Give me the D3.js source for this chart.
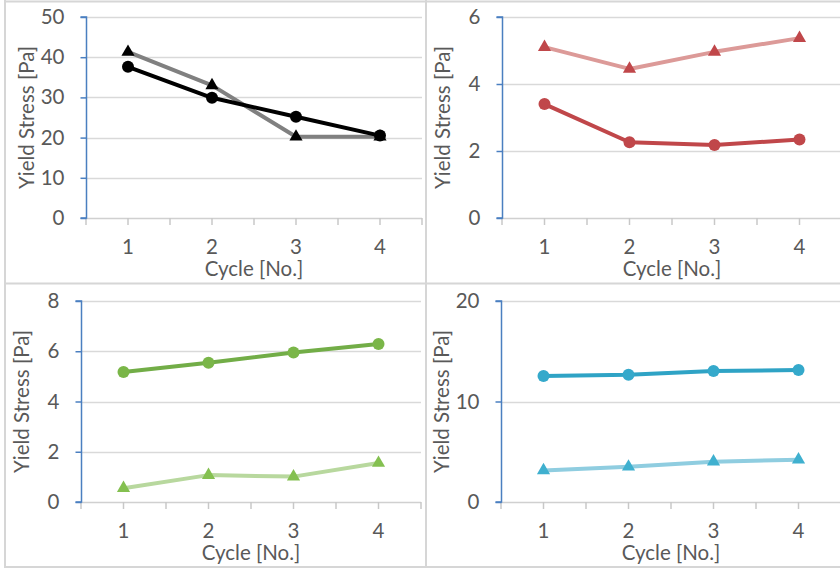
<!DOCTYPE html>
<html><head><meta charset="utf-8">
<script src="https://cdn.jsdelivr.net/npm/d3@7"></script>
<style>html,body{margin:0;padding:0;background:#fff;}svg{display:block;}</style>
</head><body>
<svg id="c" width="840" height="568"></svg>
<script>
// ---- data ----
const cycles = [1, 2, 3, 4];
const p1Circle   = [37.6, 29.9, 25.2, 20.5];
const p1Triangle = [41.3, 33.0, 20.2, 20.2];
const p2Circle   = [3.40, 2.26, 2.18, 2.34];
const p2Triangle = [5.10, 4.45, 4.96, 5.37];
const p3Circle   = [5.17, 5.54, 5.95, 6.29];
const p3Triangle = [0.55, 1.07, 1.01, 1.55];
const p4Circle   = [12.54, 12.67, 13.03, 13.13];
const p4Triangle = [3.14, 3.51, 4.01, 4.21];
const yTicks1 = [0, 10, 20, 30, 40, 50];
const yTicks2 = [0, 2, 4, 6];
const yTicks3 = [0, 2, 4, 6, 8];
const yTicks4 = [0, 10, 20];
const xTitle = "Cycle [No.]";
const yTitle = "Yield Stress [Pa]";

// ---- layout / style ----
const panels = [
  {x0: 86,  x1: 422, y0: 17,  y1: 218, ticks: yTicks1, circ: p1Circle, tri: p1Triangle,
   cLine: "#000000", cMark: "#000000", tLine: "#808080", tMark: "#000000"},
  {x0: 502, x1: 842, y0: 17,  y1: 218, ticks: yTicks2, circ: p2Circle, tri: p2Triangle,
   cLine: "#c0474a", cMark: "#c0474a", tLine: "#dc9a98", tMark: "#c0474a"},
  {x0: 81,  x1: 421, y0: 301, y1: 502, ticks: yTicks3, circ: p3Circle, tri: p3Triangle,
   cLine: "#72ad47", cMark: "#7ab648", tLine: "#b8d89e", tMark: "#84c050"},
  {x0: 501, x1: 841, y0: 301, y1: 502, ticks: yTicks4, circ: p4Circle, tri: p4Triangle,
   cLine: "#2fa3c5", cMark: "#35a9cb", tLine: "#8fcde0", tMark: "#3fb0cf"}
];
const FONT = "Lato, 'Open Sans', sans-serif";
const FS = 20.5;
const svg = d3.select("#c");

// panel frames
const frame = svg.append("g").attr("stroke", "#d6d6d6").attr("stroke-width", 2);
frame.append("line").attr("x1", 5).attr("x2", 5).attr("y1", 0).attr("y2", 568);
frame.append("line").attr("x1", 426).attr("x2", 426).attr("y1", 0).attr("y2", 568);
frame.append("line").attr("x1", 5).attr("x2", 840).attr("y1", 1.5).attr("y2", 1.5);
frame.append("line").attr("x1", 5).attr("x2", 840).attr("y1", 283.5).attr("y2", 283.5);
frame.append("line").attr("x1", 5).attr("x2", 840).attr("y1", 567).attr("y2", 567);

panels.forEach(p => {
  const g = svg.append("g");
  const x = d3.scaleBand().domain(cycles).range([p.x0, p.x1]);
  const y = d3.scaleLinear().domain([0, d3.max(p.ticks)]).range([p.y1, p.y0]);
  const clipRight = p.x1 > 426 ? 840 : 422;

  // gridlines
  g.append("g").selectAll("line").data(p.ticks.filter(t => t > 0)).join("line")
    .attr("x1", p.x0).attr("x2", Math.min(p.x1, clipRight))
    .attr("y1", d => Math.round(y(d)) + 0.5).attr("y2", d => Math.round(y(d)) + 0.5)
    .attr("stroke", "#d9d9d9").attr("stroke-width", 1.5);

  // x axis: ticks at every half band
  const halfTicks = d3.range(0, cycles.length * 2 + 1).map(i => p.x0 + i * x.bandwidth() / 2)
    .filter(v => v <= 840);
  const xa = g.append("g");
  xa.append("line").attr("x1", p.x0).attr("x2", Math.min(p.x1, 840))
    .attr("y1", p.y1 + 0.5).attr("y2", p.y1 + 0.5).attr("stroke", "#d0d0d0").attr("stroke-width", 1.5);
  xa.selectAll("line.t").data(halfTicks).join("line").attr("class", "t")
    .attr("x1", d => d).attr("x2", d => d).attr("y1", p.y1).attr("y2", p.y1 + 7)
    .attr("stroke", "#c8c8c8").attr("stroke-width", 1.5);
  xa.selectAll("text").data(cycles).join("text")
    .attr("x", d => x(d) + x.bandwidth() / 2).attr("y", p.y1 + 36)
    .attr("text-anchor", "middle").attr("font-family", FONT).attr("font-size", FS)
    .attr("fill", "#595959").text(d => d);
  g.append("text")
    .attr("x", p.x0 + 2 * x.bandwidth()).attr("y", p.y1 + 58)
    .attr("text-anchor", "middle").attr("font-family", FONT).attr("font-size", FS)
    .attr("fill", "#595959").text(xTitle);

  // y axis (blue)
  const ya = g.append("g").attr("transform", `translate(${p.x0 + 0.5},0)`)
    .call(d3.axisLeft(y).tickValues(p.ticks).tickSize(6).tickPadding(16).tickFormat(d3.format("d")));
  ya.select(".domain").attr("stroke", "#4a7fc0").attr("stroke-width", 1.5)
    .attr("d", `M-6,${y(d3.max(p.ticks))}H0V${p.y1}H-6`);
  ya.selectAll(".tick line").attr("stroke", "#4a7fc0").attr("stroke-width", 1.5);
  ya.selectAll(".tick text").attr("font-family", FONT).attr("font-size", FS).attr("fill", "#595959");
  g.append("text").attr("transform", `translate(${p.x0 - 57},${(p.y0 + p.y1) / 2}) rotate(-90)`)
    .attr("text-anchor", "middle").attr("dominant-baseline", "middle")
    .attr("font-family", FONT).attr("font-size", FS).attr("fill", "#595959").text(yTitle);

  const cx = d => x(d) + x.bandwidth() / 2;
  const line = d3.line().x((d, i) => cx(cycles[i])).y(d => y(d));

  // triangle series
  g.append("path").datum(p.tri).attr("d", line).attr("fill", "none")
    .attr("stroke", p.tLine).attr("stroke-width", 4).attr("stroke-linejoin", "round");
  g.append("g").selectAll("path").data(p.tri).join("path")
    .attr("d", d3.symbol(d3.symbolTriangle, 75))
    .attr("transform", (d, i) => `translate(${cx(cycles[i])},${y(d)})`)
    .attr("fill", p.tMark);

  // circle series
  g.append("path").datum(p.circ).attr("d", line).attr("fill", "none")
    .attr("stroke", p.cLine).attr("stroke-width", 4).attr("stroke-linejoin", "round");
  g.append("g").selectAll("circle").data(p.circ).join("circle")
    .attr("cx", (d, i) => cx(cycles[i])).attr("cy", d => y(d)).attr("r", 6)
    .attr("fill", p.cMark);
});
</script>
</body></html>
